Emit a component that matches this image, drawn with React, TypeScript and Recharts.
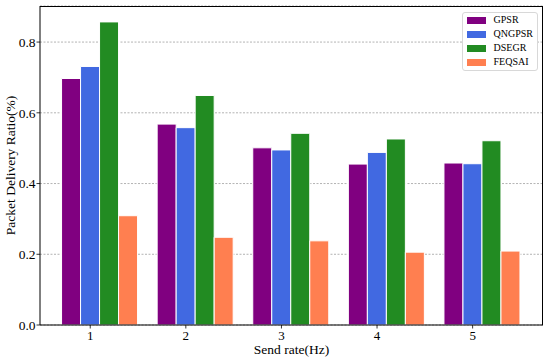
import React from 'react';
import { BarChart, Bar, XAxis, YAxis, CartesianGrid } from 'recharts';

const categories = ['1', '2', '3', '4', '5'];
const gpsr = [0.697, 0.568, 0.501, 0.455, 0.458];
const qngpsr = [0.731, 0.558, 0.495, 0.488, 0.456];
const dsegr = [0.857, 0.649, 0.542, 0.526, 0.521];
const feqsai = [0.309, 0.248, 0.238, 0.206, 0.209];
const yTicks = [0, 0.2, 0.4, 0.6, 0.8];

const seriesNames = ['GPSR', 'QNGPSR', 'DSEGR', 'FEQSAI'];
const seriesKeys = ['gpsr', 'qngpsr', 'dsegr', 'feqsai'];
const colors = ['#800080', '#4169E1', '#228B22', '#FF7F50'];

const data = categories.map((c, i) => ({
  rate: c,
  gpsr: gpsr[i],
  qngpsr: qngpsr[i],
  dsegr: dsegr[i],
  feqsai: feqsai[i],
}));

const FONT = '"Liberation Serif", "Times New Roman", serif';
const TICK_SHIFT = 9.56;

const M_TOP = 6;
const M_RIGHT = 7;
const Y_W = 40;
const X_H = 36;
const W = 550;
const H = 361;

const XTick = (props: any) => {
  const { x, y, payload } = props;
  const tx = x - TICK_SHIFT;
  return (
    <g>
      <line x1={tx} x2={tx} y1={y} y2={y + 3.5} stroke="#000" strokeWidth={0.8} />
      <text x={tx} y={y + 14.5} textAnchor="middle" fontFamily={FONT} fontSize={13} fill="#000">
        {payload.value}
      </text>
    </g>
  );
};

const LegendBox = () => (
  <div
    style={{
      position: 'absolute',
      top: 12,
      right: 12,
      border: '1px solid #d8d8d8',
      borderRadius: 3,
      background: '#fff',
      padding: '2px 4px 3px 4px',
      fontFamily: FONT,
      fontSize: 10,
      color: '#000',
    }}
  >
    {seriesNames.map((n, i) => (
      <div key={n} style={{ display: 'flex', alignItems: 'center', height: 10, marginTop: i === 0 ? 0 : 4 }}>
        <span style={{ display: 'inline-block', width: 19, height: 7, background: colors[i], marginRight: 8 }} />
        <span style={{ lineHeight: '10px' }}>{n}</span>
      </div>
    ))}
  </div>
);

export default function App() {
  return (
    <div style={{ position: 'absolute', left: 0, top: 0, width: W, height: H, background: '#fff' }}>
      <BarChart
        width={W}
        height={H}
        data={data}
        margin={{ top: M_TOP, right: M_RIGHT, left: 0, bottom: 0 }}
        barGap={0}
        barCategoryGap="10%"
      >
        <CartesianGrid vertical={false} stroke="#a0a0a0" strokeWidth={0.8} strokeDasharray="2 1.5" />
        <XAxis
          dataKey="rate"
          height={X_H}
          padding={{ left: 12, right: 13 }}
          tickLine={false}
          tickSize={0}
          tickMargin={0}
          axisLine={{ stroke: '#000', strokeWidth: 1 }}
          tick={<XTick />}
          interval={0}
          label={{ value: 'Send rate(Hz)', position: 'insideBottom', offset: 7, style: { fontFamily: FONT, fontSize: 13.5, fill: '#000' } }}
        />
        <YAxis
          width={Y_W}
          domain={[0, 0.902]}
          ticks={yTicks}
          tickFormatter={(v: number) => v.toFixed(1)}
          tickSize={3.5}
          tickMargin={1}
          tickLine={{ stroke: '#000', strokeWidth: 0.8 }}
          axisLine={{ stroke: '#000', strokeWidth: 1 }}
          tick={{ fontFamily: FONT, fontSize: 13.5, fill: '#000' }}
          allowDataOverflow
          label={{
            value: 'Packet Delivery Ratio(%)',
            angle: -90,
            position: 'insideLeft',
            offset: 10,
            style: { fontFamily: FONT, fontSize: 13.5, fill: '#000', textAnchor: 'middle' },
          }}
        />
        {seriesKeys.map((k, i) => (
          <Bar
            key={k}
            dataKey={k}
            name={seriesNames[i]}
            fill={colors[i]}
            stroke="#fff"
            strokeWidth={1}
            isAnimationActive={false}
          />
        ))}
      </BarChart>
      <div
        style={{
          position: 'absolute',
          left: Y_W,
          top: M_TOP,
          width: W - Y_W - M_RIGHT,
          height: H - M_TOP - X_H,
          borderTop: '1px solid #000',
          borderRight: '1px solid #000',
          boxSizing: 'border-box',
          pointerEvents: 'none',
        }}
      />
      <LegendBox />
    </div>
  );
}
